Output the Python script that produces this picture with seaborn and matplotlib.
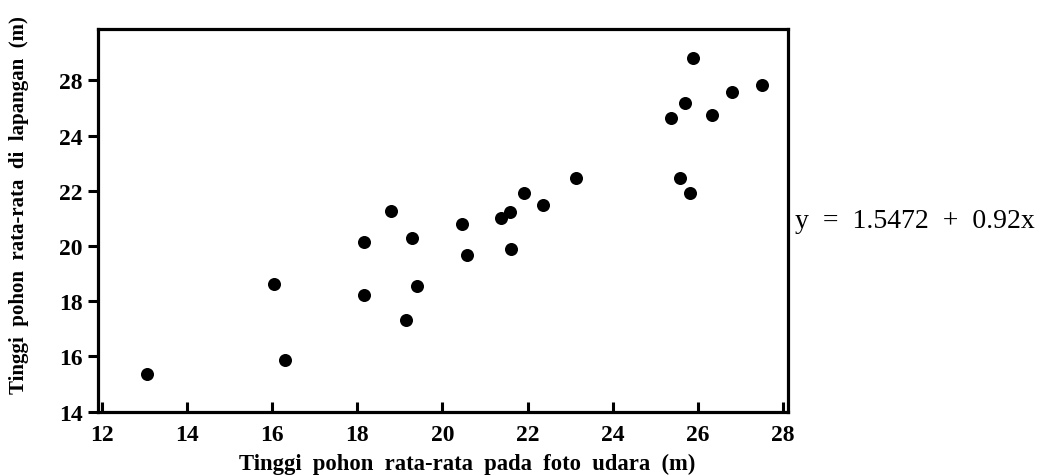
import matplotlib
matplotlib.use("Agg")
import matplotlib.pyplot as plt
import seaborn as sns
import pandas as pd

# Data (linear axis units)
foto_udara = [13.07, 16.04, 16.31, 18.16, 18.16, 19.28, 19.41, 19.14, 18.80,
              20.47, 20.58, 21.38, 21.58, 21.61, 21.92, 22.35, 23.14,
              25.89, 27.50, 26.80, 25.70, 25.36, 26.33, 25.57, 25.80]
lapangan = [15.35, 18.62, 15.88, 20.15, 18.23, 20.29, 18.56, 17.33, 21.26,
            20.80, 19.68, 21.00, 21.22, 19.88, 21.93, 21.49, 22.45,
            26.81, 25.83, 25.59, 25.17, 24.64, 24.75, 22.45, 21.92]

x_ticks = [12, 14, 16, 18, 20, 22, 24, 26, 28]
x_ticklabels = ["12", "14", "16", "18", "20", "22", "24", "26", "28"]
y_ticks = [14, 16, 18, 20, 22, 24, 26]
y_ticklabels = ["14", "16", "18", "20", "22", "24", "28"]

x_label = "Tinggi  pohon  rata-rata  pada  foto  udara  (m)"
y_label = "Tinggi  pohon  rata-rata  di  lapangan  (m)"
equation = "y  =  1.5472  +  0.92x"

sns.set_theme(style="white")
plt.rcParams["font.family"] = ["Liberation Serif", "DejaVu Serif"]
plt.rcParams["text.color"] = "black"
plt.rcParams["axes.labelcolor"] = "black"
plt.rcParams["xtick.color"] = "black"
plt.rcParams["ytick.color"] = "black"

df = pd.DataFrame({"x": foto_udara, "y": lapangan})

fig = plt.figure(figsize=(10.45, 4.77), dpi=100)
ax = fig.add_axes([0.0935, 0.1352, 0.6605, 0.8018])
sns.scatterplot(data=df, x="x", y="y", ax=ax, color="black", s=88,
                edgecolor="black", linewidth=0)

ax.set_xlim(11.91, 28.11)
ax.set_ylim(14, 27.86)
ax.set_xticks(x_ticks)
ax.set_xticklabels(x_ticklabels, fontsize=17, fontweight="bold", color="black")
ax.set_yticks(y_ticks)
ax.set_yticklabels(y_ticklabels, fontsize=17, fontweight="bold", color="black")

for sp in ax.spines.values():
    sp.set_visible(True)
    sp.set_color("black")
    sp.set_linewidth(2.3)

ax.tick_params(axis="x", direction="in", length=7, width=2.2, pad=9, colors="black")
ax.tick_params(axis="y", direction="out", length=7, width=2.2, pad=4, colors="black")
ax.tick_params(axis="x", bottom=True)
ax.tick_params(axis="y", left=True)

ax.set_xlabel(x_label, fontsize=16.3, fontweight="bold", color="black")
ax.set_ylabel(y_label, fontsize=15, fontweight="bold", color="black")
ax.xaxis.set_label_coords(0.535, -0.108)
ax.yaxis.set_label_coords(-0.100, 0.542)

fig.text(0.761, 0.535, equation, fontsize=20, ha="left", va="center", color="black")

fig.savefig("out.png", dpi=100)
